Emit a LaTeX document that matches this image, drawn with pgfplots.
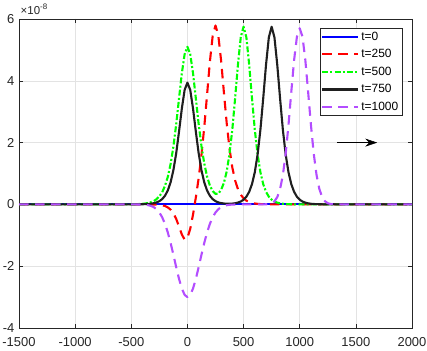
\documentclass[border=0pt]{standalone}
\usepackage{fontspec}
\setmainfont{Liberation Sans}
\usepackage{pgfplots}
\pgfplotsset{compat=1.18}
\usetikzlibrary{arrows.meta,calc}
\definecolor{axgray}{HTML}{262626}
\definecolor{gridgray}{HTML}{E3E3E3}
\definecolor{mpurple}{HTML}{B34DFF}
\tikzset{
  mline/.style={line width=2.1bp, line join=round},
  mdash/.style={mline, dash pattern=on 9.5bp off 6.5bp},
  mdashdot/.style={mline, dash pattern=on 6bp off 2bp on 2bp off 2.3bp},
}
\begin{document}
\begin{tikzpicture}
\begin{axis}[
  scale only axis,
  width=393bp, height=309bp,
  xmin=-1500, xmax=2000,
  ymin=-4, ymax=6,
  clip mode=individual,
  xtick={-1500,-1000,...,2000},
  ytick={-4,-2,...,6},
  xtick pos=both, ytick pos=both,
  tick align=inside,
  major tick length=4bp,
  grid=major,
  grid style={gridgray, line width=0.5bp},
  axis line style={axgray, line width=0.5bp},
  tick style={axgray, line width=0.5bp},
  tick label style={font=\fontsize{13}{15}\selectfont, text=axgray},
  xticklabel style={yshift=-6bp},
  yticklabel style={xshift=-1.2bp},
  /pgf/number format/1000 sep={},
  /pgf/number format/assume math mode=true,
  legend style={at={(rel axis cs:1,1)}, xshift=-10bp, yshift=-9bp,
    anchor=north east, draw=axgray, line width=0.5bp, fill=white,
    font=\fontsize{12}{14}\selectfont, inner sep=1.5bp, row sep=3.8bp},
  legend cell align=left,
  legend image code/.code={\draw[mline, #1] (0bp,0bp) -- (36bp,0bp);},
]
\addplot[blue, mline, solid] coordinates {(-1500,0) (2000,0)};

\addplot[red, mdash] coordinates {
(-1500,0) (-400,-0.001) (-350,-0.002) (-300,-0.006) (-275,-0.010)
(-250,-0.016) (-225,-0.030) (-200,-0.052) (-175,-0.097) (-150,-0.168)
(-125,-0.288) (-100,-0.468) (-75,-0.715) (-50,-0.971) (-25,-1.139)
(0,-1.085) (25,-0.789) (50,-0.326) (75,0.225) (100,0.851) (125,1.598)
(150,2.506) (175,3.553) (200,4.621) (225,5.454) (250,5.789) (275,5.469)
(300,4.653) (325,3.617) (350,2.621) (375,1.798) (400,1.189) (425,0.771)
(450,0.493) (475,0.313) (500,0.197) (525,0.122) (550,0.077) (575,0.047)
(600,0.030) (625,0.018) (650,0.011) (700,0.005) (750,0.002) (800,0)
(2000,0)};

\addplot[green, mdashdot] coordinates {
(-1500,0) (-500,0.003) (-450,0.008) (-400,0.019) (-375,0.030) (-350,0.046)
(-325,0.072) (-300,0.110) (-275,0.169) (-250,0.260) (-225,0.394) (-200,0.597)
(-175,0.888) (-150,1.305) (-125,1.871) (-100,2.595) (-75,3.423) (-50,4.241)
(-25,4.861) (0,5.1) (25,4.861) (50,4.241) (75,3.423) (100,2.603) (125,1.884)
(150,1.326) (175,0.900) (200,0.610) (225,0.430) (250,0.340) (275,0.350)
(300,0.470) (325,0.700) (350,1.070) (375,1.640) (400,2.434) (425,3.446)
(450,4.528) (475,5.410) (500,5.753) (525,5.407) (550,4.521) (575,3.433)
(600,2.415) (625,1.616) (650,1.041) (675,0.656) (700,0.407) (725,0.250)
(750,0.153) (775,0.093) (800,0.057) (825,0.035) (850,0.021) (875,0.013)
(900,0.008) (950,0.003) (1000,0) (2000,0)};

\addplot[black!88, mline, solid] coordinates {
(-1500,0) (-450,0.002) (-400,0.005) (-375,0.009) (-350,0.014) (-325,0.024)
(-300,0.039) (-275,0.064) (-250,0.105) (-225,0.171) (-200,0.279) (-175,0.449)
(-150,0.713) (-125,1.107) (-100,1.655) (-75,2.352) (-50,3.097) (-25,3.704)
(0,3.94) (25,3.704) (50,3.097) (75,2.352) (100,1.655) (125,1.107) (150,0.713)
(175,0.449) (200,0.279) (225,0.171) (250,0.105) (275,0.064) (300,0.042)
(325,0.029) (350,0.022) (375,0.022) (400,0.026) (425,0.038) (450,0.059)
(475,0.094) (500,0.153) (525,0.250) (550,0.407) (575,0.656) (600,1.041)
(625,1.616) (650,2.415) (675,3.433) (700,4.520) (725,5.405) (750,5.75)
(775,5.405) (800,4.520) (825,3.433) (850,2.415) (875,1.616) (900,1.041)
(925,0.656) (950,0.407) (975,0.250) (1000,0.153) (1025,0.093) (1050,0.057)
(1075,0.035) (1100,0.021) (1125,0.013) (1150,0.008) (1200,0.003) (1250,0)
(2000,0)};

\addplot[mpurple, mdash] coordinates {
(-1500,0) (-450,-0.001) (-400,-0.006) (-375,-0.012) (-350,-0.025)
(-325,-0.048) (-300,-0.089) (-275,-0.156) (-250,-0.261) (-225,-0.414)
(-200,-0.630) (-175,-0.906) (-150,-1.245) (-125,-1.629) (-100,-2.031)
(-75,-2.409) (-50,-2.721) (-25,-2.928) (0,-3.0) (25,-2.928) (50,-2.721)
(75,-2.409) (100,-2.031) (125,-1.629) (150,-1.245) (175,-0.906) (200,-0.630)
(225,-0.414) (250,-0.261) (275,-0.156) (300,-0.089) (325,-0.048)
(350,-0.025) (375,-0.012) (400,-0.006) (450,-0.001) (500,0) (650,0)
(700,0.004) (725,0.014) (750,0.039) (775,0.101) (800,0.235) (825,0.497)
(850,0.948) (875,1.640) (900,2.568) (925,3.640) (950,4.670) (975,5.423)
(1000,5.7) (1025,5.423) (1050,4.670) (1075,3.640) (1100,2.568) (1125,1.640)
(1150,0.948) (1175,0.497) (1200,0.235) (1225,0.101) (1250,0.039)
(1275,0.014) (1300,0.004) (1350,0) (2000,0)};

\legend{t=0, t=250, t=500, t=750, t=1000}

\draw[black, line width=0.5bp, solid,
  -{Stealth[length=12bp, width=8bp, inset=4bp]}]
  (axis cs:1330,2) -- (axis cs:1690,2);

\node[anchor=base west, inner sep=0pt, text=axgray,
  font=\fontsize{11.5}{13}\selectfont]
  at ($(rel axis cs:0,1)+(1.5bp,4bp)$)
  {×10\raisebox{5bp}{\fontsize{8}{8}\selectfont -8}};

\coordinate (bl) at (rel axis cs:0,0);
\coordinate (tr) at (rel axis cs:1,1);
\end{axis}
\pgfresetboundingbox
\path[use as bounding box] ($(bl)+(-19bp,-22bp)$) rectangle ($(tr)+(15bp,19bp)$);
\end{tikzpicture}
\end{document}
